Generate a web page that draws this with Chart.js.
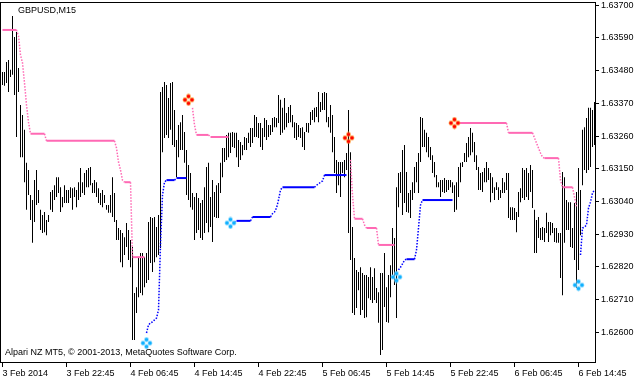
<!DOCTYPE html>
<html><head><meta charset="utf-8">
<script src="https://cdn.jsdelivr.net/npm/chart.js@4.4.1/dist/chart.umd.min.js"></script>
<style>html,body{margin:0;padding:0;background:#fff;}#wrap{width:644px;height:380px;position:relative;}</style>
</head><body><div id="wrap"><canvas id="c" width="644" height="380"></canvas></div>
<script>
const symbolTitle = 'GBPUSD,M15';
const copyright = 'Alpari NZ MT5, \u00A9 2001-2013, MetaQuotes Software Corp.';
const xTickIdx = [0,32,64,96,128,160,192,224,256,288];
const xTickLabels = ['3 Feb 2014','3 Feb 22:45','4 Feb 06:45','4 Feb 14:45','4 Feb 22:45','5 Feb 06:45','5 Feb 14:45','5 Feb 22:45','6 Feb 06:45','6 Feb 14:45'];
const yTicks = [1.62600,1.62710,1.62820,1.62930,1.63040,1.63150,1.63260,1.63370,1.63480,1.63590,1.63700];

const high = [
1.63476,1.63476,1.63509,1.63516,1.63483,1.63664,1.63593,1.63610,1.63489,1.63365,
1.63331,1.63281,1.63170,1.63146,1.63062,1.63045,1.63112,1.63146,1.63079,1.63012,
1.62995,1.63005,1.62978,1.62995,1.63072,1.63079,1.63095,1.63122,1.63122,1.63088,
1.63055,1.63095,1.63079,1.63079,1.63088,1.63085,1.63088,1.63079,1.63105,1.63153,
1.63105,1.63136,1.63146,1.63153,1.63156,1.63102,1.63112,1.63105,1.63085,1.63069,
1.63079,1.63062,1.63028,1.63028,1.63062,1.63122,1.63069,1.62978,1.62951,1.62944,
1.62934,1.62920,1.62968,1.62944,1.62911,1.62887,1.62732,1.62752,1.62853,1.62867,
1.62867,1.62853,1.62867,1.62971,1.62988,1.62985,1.62988,1.62954,1.62995,1.63408,
1.63425,1.63442,1.63432,1.63388,1.63439,1.63442,1.63348,1.63247,1.63297,1.63307,
1.63331,1.63274,1.63213,1.63163,1.63136,1.63069,1.63055,1.63069,1.63052,1.63035,
1.63045,1.63088,1.63156,1.63170,1.63055,1.63112,1.63072,1.63095,1.63102,1.63170,
1.63220,1.63220,1.63264,1.63271,1.63271,1.63274,1.63271,1.63271,1.63247,1.63240,
1.63230,1.63257,1.63254,1.63271,1.63287,1.63287,1.63331,1.63324,1.63304,1.63304,
1.63287,1.63321,1.63314,1.63297,1.63297,1.63321,1.63324,1.63321,1.63398,1.63382,
1.63355,1.63388,1.63338,1.63358,1.63365,1.63331,1.63307,1.63304,1.63297,1.63287,
1.63290,1.63274,1.63304,1.63304,1.63341,1.63348,1.63355,1.63358,1.63408,1.63375,
1.63405,1.63408,1.63405,1.63324,1.63365,1.63331,1.63257,1.63180,1.63173,1.63173,
1.63173,1.63180,1.63203,1.63348,1.63206,1.62954,1.62850,1.62810,1.62803,1.62819,
1.62800,1.62793,1.62793,1.62786,1.62819,1.62786,1.62816,1.62749,1.62735,1.62800,
1.62800,1.62867,1.62752,1.62793,1.62826,1.62951,1.62917,1.63088,1.63136,1.63139,
1.63213,1.63230,1.63139,1.63069,1.63079,1.63105,1.63156,1.63173,1.63203,1.63324,
1.63321,1.63281,1.63271,1.63257,1.63223,1.63196,1.63173,1.63129,1.63105,1.63112,
1.63112,1.63119,1.63112,1.63112,1.63112,1.63105,1.63095,1.63105,1.63156,1.63170,
1.63173,1.63203,1.63237,1.63257,1.63287,1.63271,1.63240,1.63196,1.63156,1.63136,
1.63139,1.63153,1.63173,1.63153,1.63136,1.63122,1.63088,1.63105,1.63088,1.63079,
1.63119,1.63105,1.63136,1.63136,1.63021,1.63021,1.63018,1.63005,1.63072,1.63085,
1.63153,1.63146,1.63153,1.63136,1.63163,1.63146,1.63012,1.62978,1.62988,1.62951,
1.62954,1.62951,1.63002,1.62971,1.62971,1.62968,1.62951,1.62951,1.62934,1.62934,
1.63139,1.63122,1.63045,1.63038,1.63038,1.62951,1.63035,1.63072,1.63153,1.63079,
1.63281,1.63290,1.63321,1.63355,1.63355,1.63348,1.63375
];
const low = [
1.63432,1.63429,1.63439,1.63408,1.63459,1.63466,1.63398,1.63257,1.63408,1.63189,
1.63189,1.63105,1.63012,1.63062,1.62978,1.62901,1.62971,1.63028,1.63035,1.62944,
1.62934,1.62937,1.62927,1.62971,1.63012,1.63005,1.63045,1.63055,1.63069,1.63005,
1.63021,1.63035,1.63035,1.63035,1.63052,1.63012,1.63055,1.63021,1.63045,1.63055,
1.63069,1.63062,1.63088,1.63088,1.63095,1.63069,1.63069,1.63055,1.63035,1.63028,
1.63021,1.63035,1.63012,1.63002,1.63002,1.62988,1.62971,1.62911,1.62911,1.62836,
1.62819,1.62860,1.62887,1.62843,1.62819,1.62574,1.62574,1.62665,1.62718,1.62732,
1.62725,1.62752,1.62766,1.62776,1.62833,1.62803,1.62836,1.62853,1.62860,1.62884,
1.63206,1.63254,1.63264,1.63254,1.63281,1.63230,1.63223,1.63122,1.63189,1.63213,
1.63213,1.63170,1.63062,1.63045,1.63021,1.63012,1.62911,1.62934,1.62944,1.62917,
1.62911,1.62934,1.62968,1.62937,1.62954,1.62904,1.62988,1.62985,1.62985,1.63069,
1.63122,1.63173,1.63180,1.63189,1.63203,1.63223,1.63220,1.63189,1.63156,1.63180,
1.63196,1.63213,1.63213,1.63237,1.63223,1.63237,1.63257,1.63257,1.63254,1.63223,
1.63213,1.63257,1.63247,1.63257,1.63264,1.63274,1.63290,1.63290,1.63304,1.63264,
1.63271,1.63281,1.63290,1.63304,1.63307,1.63290,1.63254,1.63247,1.63257,1.63254,
1.63223,1.63213,1.63274,1.63271,1.63297,1.63314,1.63307,1.63324,1.63307,1.63341,
1.63348,1.63348,1.63307,1.63290,1.63271,1.63206,1.63136,1.63069,1.63095,1.63055,
1.63136,1.63122,1.63146,1.62934,1.62843,1.62665,1.62658,1.62682,1.62742,1.62658,
1.62675,1.62648,1.62651,1.62715,1.62709,1.62699,1.62709,1.62699,1.62632,1.62524,
1.62541,1.62685,1.62635,1.62632,1.62718,1.62793,1.62759,1.62648,1.63021,1.63069,
1.62995,1.63035,1.63005,1.63002,1.62985,1.63045,1.63069,1.63105,1.63069,1.63173,
1.63223,1.63223,1.63206,1.63189,1.63180,1.63136,1.63122,1.63088,1.63088,1.63055,
1.63072,1.63069,1.63072,1.63079,1.63088,1.63069,1.63005,1.63012,1.63055,1.63105,
1.63156,1.63173,1.63173,1.63189,1.63196,1.63206,1.63173,1.63146,1.63079,1.63079,
1.63072,1.63105,1.63105,1.63112,1.63038,1.63069,1.63045,1.63079,1.63045,1.63052,
1.63069,1.63069,1.63079,1.62985,1.62978,1.62978,1.62978,1.62937,1.62988,1.63038,
1.63052,1.63045,1.63055,1.63045,1.63072,1.63018,1.62867,1.62867,1.62917,1.62911,
1.62911,1.62904,1.62934,1.62904,1.62927,1.62934,1.62904,1.62901,1.62901,1.62783,
1.62725,1.62901,1.62944,1.62944,1.62887,1.62884,1.62843,1.62749,1.62810,1.62927,
1.63095,1.63146,1.63136,1.63146,1.63156,1.63223,1.63230
];
// upper (bearish) trailing stop, pink
const upperStop = [
1.63617,1.63617,1.63617,1.63617,1.63617,1.63617,1.63617,1.63617,1.63597,1.63533,
1.63506,1.63439,1.63365,1.63307,1.63268,1.63268,1.63268,1.63268,1.63268,1.63268,
1.63268,1.63268,1.63244,1.63244,1.63244,1.63244,1.63244,1.63244,1.63244,1.63244,
1.63244,1.63244,1.63244,1.63244,1.63244,1.63244,1.63244,1.63244,1.63244,1.63244,
1.63244,1.63244,1.63244,1.63244,1.63244,1.63244,1.63244,1.63244,1.63244,1.63244,
1.63244,1.63244,1.63244,1.63244,1.63244,1.63244,1.63244,1.63220,1.63173,1.63146,
1.63112,1.63105,1.63105,1.63105,1.63105,1.62853,1.62853,1.62853,1.62853,1.62853,
1.62853,1.62853,null,null,null,null,null,null,null,null,
null,null,null,null,null,null,null,null,null,null,
null,null,null,null,null,1.63355,1.63297,1.63264,1.63264,1.63264,
1.63264,1.63264,1.63264,1.63264,1.63257,1.63257,1.63257,1.63257,1.63257,1.63257,
1.63257,1.63257,1.63257,1.63257,null,null,null,null,null,null,
null,null,null,null,null,null,null,null,null,null,
null,null,null,null,null,null,null,null,null,null,
null,null,null,null,null,null,null,null,null,null,
null,null,null,null,null,null,null,null,null,null,
null,null,null,null,null,null,null,null,null,null,
null,null,null,null,1.63180,1.63062,1.62982,1.62982,1.62982,1.62982,
1.62982,1.62961,1.62951,1.62951,1.62951,1.62951,1.62951,1.62951,1.62894,1.62894,
1.62894,1.62894,1.62894,1.62894,1.62894,1.62894,1.62894,null,null,null,
null,null,null,null,null,null,null,null,null,null,
null,null,null,null,null,null,null,null,null,null,
null,null,null,null,null,null,null,null,1.63304,1.63304,
1.63304,1.63304,1.63304,1.63304,1.63304,1.63304,1.63304,1.63304,1.63304,1.63304,
1.63304,1.63304,1.63304,1.63304,1.63304,1.63304,1.63304,1.63304,1.63304,1.63304,
1.63304,1.63304,1.63304,1.63271,1.63271,1.63271,1.63271,1.63271,1.63271,1.63271,
1.63271,1.63271,1.63271,1.63271,1.63271,1.63271,1.63254,1.63237,1.63220,1.63203,
1.63189,1.63186,1.63186,1.63186,1.63186,1.63186,1.63186,1.63186,1.63186,1.63112,
1.63088,1.63088,1.63088,1.63088,1.63088,1.63088,1.63055,1.63021,null,null,
null,null,null,null,null,null,null
];
// lower (bullish) trailing stop, blue
const lowerStop = [
null,null,null,null,null,null,null,null,null,null,
null,null,null,null,null,null,null,null,null,null,
null,null,null,null,null,null,null,null,null,null,
null,null,null,null,null,null,null,null,null,null,
null,null,null,null,null,null,null,null,null,null,
null,null,null,null,null,null,null,null,null,null,
null,null,null,null,null,null,null,null,null,null,
null,null,1.62598,1.62625,1.62632,1.62635,1.62642,1.62648,1.62675,1.62894,
1.63062,1.63105,1.63112,1.63112,1.63112,1.63112,1.63112,1.63119,1.63119,1.63119,
1.63119,1.63119,1.63119,null,null,null,null,null,null,null,
null,null,null,null,null,null,null,null,null,null,
null,null,null,null,null,null,1.62971,1.62975,1.62975,1.62975,
1.62975,1.62975,1.62975,1.62975,1.62975,1.62988,1.62988,1.62988,1.62988,1.62988,
1.62988,1.62988,1.62988,1.62988,1.62988,1.62999,1.63005,1.63018,1.63045,1.63079,
1.63088,1.63088,1.63088,1.63088,1.63088,1.63088,1.63088,1.63088,1.63088,1.63088,
1.63088,1.63088,1.63088,1.63088,1.63088,1.63088,1.63088,1.63095,1.63099,1.63105,
1.63109,1.63129,1.63129,1.63129,1.63129,1.63129,1.63129,1.63129,1.63129,1.63129,
1.63129,1.63129,1.63129,null,null,null,null,null,null,null,
null,null,null,null,null,null,null,null,null,null,
null,null,null,null,null,null,null,null,1.62810,1.62819,
1.62830,1.62843,1.62846,1.62846,1.62846,1.62846,1.62846,1.62877,1.62951,1.63028,
1.63045,1.63045,1.63045,1.63045,1.63045,1.63045,1.63045,1.63045,1.63045,1.63045,
1.63045,1.63045,1.63045,1.63045,1.63045,1.63045,null,null,null,null,
null,null,null,null,null,null,null,null,null,null,
null,null,null,null,null,null,null,null,null,null,
null,null,null,null,null,null,null,null,null,null,
null,null,null,null,null,null,null,null,null,null,
null,null,null,null,null,null,null,null,null,null,
null,null,null,null,null,null,null,null,null,1.62860,
1.62951,1.62954,1.62961,1.63018,1.63038,1.63069,1.63079
];
const sellIdx = [93,173,226];
const sellPrice = [1.63382,1.63254,1.63304];
const buyIdx = [72,114,197,288];
const buyPrice = [1.62564,1.62968,1.62786,1.62759];

Chart.defaults.font.family = '"Liberation Sans", Arial, sans-serif';
Chart.defaults.font.size = 9;
Chart.defaults.color = '#000';

function makeMarker(core, halo){
  const c = document.createElement('canvas'); c.width = 13; c.height = 13;
  const g = c.getContext('2d');
  const pts = [[6.5,3],[3,6.5],[10,6.5],[6.5,10]];
  g.fillStyle = halo;
  pts.forEach(([x,y])=>{g.beginPath();g.arc(x,y,2.4,0,Math.PI*2);g.fill();});
  g.fillStyle = core;
  pts.forEach(([x,y])=>{g.beginPath();g.arc(x,y,1.7,0,Math.PI*2);g.fill();});
  return c;
}
const redMark = makeMarker('#ff0000','rgba(255,150,40,0.85)');
const cyanMark = makeMarker('#10b0ff','rgba(130,215,255,0.9)');

const bars = high.map((h,i)=>({x:i, y:[low[i], h]}));
const toXY = arr => arr.map((v,i)=>({x:i, y:v}));
const stepSeg = (wFlat, wStep) => ({
  borderDash: ctx => ctx.p0.parsed.y !== ctx.p1.parsed.y ? [1.5,1.5] : [],
  borderWidth: ctx => ctx.p0.parsed.y !== ctx.p1.parsed.y ? wStep : wFlat
});
const noPad = s => { s.paddingLeft = 0; s.paddingRight = 0; s.paddingTop = 0; s.paddingBottom = 0; };

const framePlugin = {
  id: 'frame',
  afterDraw(chart){
    const {ctx, chartArea:a} = chart;
    ctx.save();
    ctx.strokeStyle = '#000'; ctx.lineWidth = 1;
    ctx.strokeRect(Math.round(a.left)-0.5, Math.round(a.top)+0.5, Math.round(a.right-a.left)+1, Math.round(a.bottom-a.top)-1);
    ctx.fillStyle = '#000';
    ctx.font = '9px "Liberation Sans", Arial, sans-serif';
    ctx.textBaseline = 'alphabetic';
    ctx.fillText(symbolTitle, 18, 13);
    ctx.fillText(copyright, 5, 355);
    ctx.restore();
  }
};

new Chart(document.getElementById('c'), {
  type: 'bar',
  data: {
    datasets: [
      {type:'bar', data: bars, backgroundColor:'#000', borderWidth:0, barThickness:1, inflateAmount:0, grouped:false, order:4},
      {type:'line', data: toXY(upperStop), borderColor:'#ff69b4', pointRadius:0, spanGaps:false, borderWidth:2, segment: stepSeg(2,1.5), order:3},
      {type:'line', data: toXY(lowerStop), borderColor:'#0000ff', pointRadius:0, spanGaps:false, borderWidth:2, segment: stepSeg(2,1.5), order:2},
      {type:'line', data: sellIdx.map((x,i)=>({x, y:sellPrice[i]})), showLine:false, pointStyle: redMark, pointRadius:6, order:1},
      {type:'line', data: buyIdx.map((x,i)=>({x, y:buyPrice[i]})), showLine:false, pointStyle: cyanMark, pointRadius:6, order:1}
    ]
  },
  options: {
    responsive:false, animation:false, devicePixelRatio:1,
    layout:{autoPadding:false, padding:{left:1, top:2, right:0, bottom:0}},
    plugins:{legend:{display:false}, tooltip:{enabled:false}, title:{display:false}},
    scales:{
      x:{type:'linear', min:-0.75, max:296.25, offset:false,
        grid:{display:true, drawOnChartArea:false, drawTicks:true, tickLength:4, color:'#000', offset:false},
        border:{display:false},
        ticks:{autoSkip:false, maxRotation:0, minRotation:0, align:'start', padding:1,
          callback:(v,idx)=>xTickLabels[idx]},
        afterBuildTicks: s => { s.ticks = xTickIdx.map(v=>({value:v})); },
        afterFit: s => { s.height = 17; noPad(s); }
      },
      y:{type:'linear', position:'right', min:1.62497, max:1.63711,
        grid:{display:true, drawOnChartArea:false, drawTicks:true, tickLength:4, color:'#000'},
        border:{display:false},
        ticks:{padding:2, callback: v => Number(v).toFixed(5)},
        afterBuildTicks: s => { s.ticks = yTicks.map(v=>({value:v})); },
        afterFit: s => { s.width = 49; noPad(s); }
      }
    }
  },
  plugins:[framePlugin]
});
</script></body></html>
